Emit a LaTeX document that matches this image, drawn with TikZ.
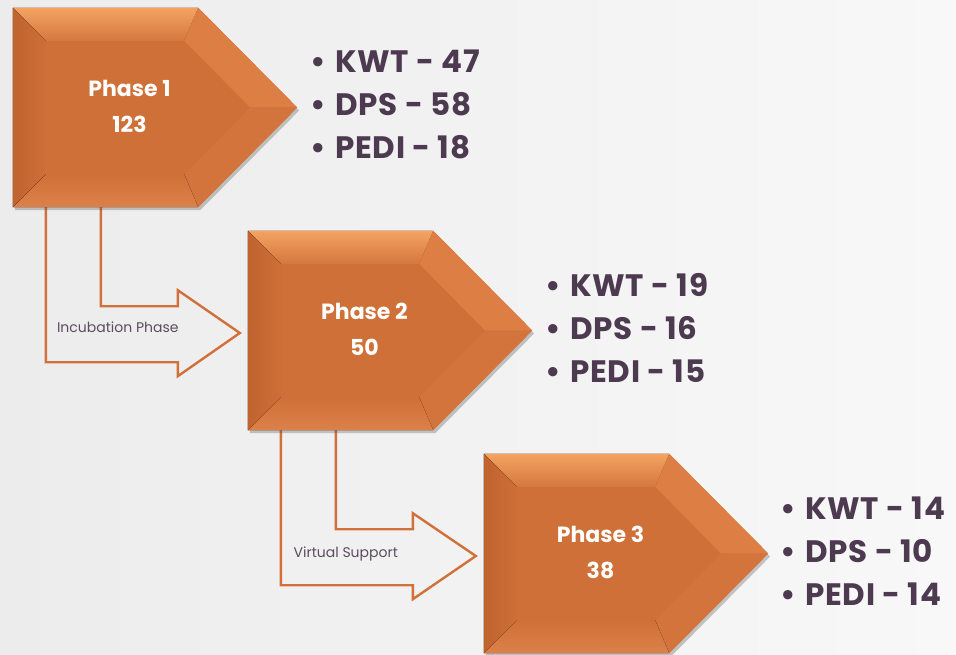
\documentclass[tikz,border=0pt]{standalone}
\usepackage{fontspec}
\setmainfont{Poppins}
\usetikzlibrary{calc,shadows}
\definecolor{PhaseOrange}{HTML}{CF7038}
\definecolor{PhaseDark}{HTML}{BF632F}
\definecolor{PhaseLight}{HTML}{DD7E44}
\definecolor{PhaseTop}{HTML}{F4A363}
\definecolor{PhaseLow}{HTML}{D3743C}
\definecolor{PhaseEdge}{HTML}{DB8149}
\definecolor{ArrowOrange}{HTML}{D2703A}
\definecolor{TextPurple}{HTML}{4D3A51}
\definecolor{LabelGray}{HTML}{5B4C5E}
\definecolor{BgLeft}{HTML}{ECECEC}
\definecolor{BgRight}{HTML}{F8F8F8}
\tikzset{
  phasebody/.style  = {minimum width=185pt, minimum height=199pt, inner sep=0pt},
  phaseshade/.style = {fill=PhaseOrange,
                       drop shadow={shadow xshift=2pt, shadow yshift=-3pt, fill=black!70, opacity=.3}},
  phasetxt/.style   = {text=white, font=\bfseries\fontsize{22}{36}\selectfont, align=center},
  bulletlist/.style = {text=TextPurple, font=\bfseries\fontsize{31}{43}\selectfont\addfontfeature{LetterSpace=2.5},
                       align=left, anchor=north west, inner sep=0pt},
  bentarrow/.style  = {draw=ArrowOrange, line width=2.4pt, line join=miter},
  arrowlbl/.style   = {text=LabelGray, font=\fontsize{14}{16}\selectfont, inner sep=0pt},
}
% bevelled pentagon drawn over a body node: name, title, count
\newcommand{\phasebox}[3]{%
  \coordinate (#1tip) at ($(#1.east)+(99,0)$);
  \path[phaseshade] (#1.north west) -- (#1.north east) -- (#1tip) -- (#1.south east) -- (#1.south west) -- cycle;
  \coordinate (#1a) at ($(#1.north west)+(33,33)$);
  \coordinate (#1b) at ($(#1.north east)+(-14,33)$);
  \coordinate (#1c) at ($(#1tip)+(-47,0)$);
  \coordinate (#1d) at ($(#1.south east)+(-14,-33)$);
  \coordinate (#1e) at ($(#1.south west)+(33,-33)$);
  \fill[top color=PhaseTop, bottom color=PhaseOrange!85!PhaseTop] (#1.north west) -- (#1.north east) -- (#1b) -- (#1a) -- cycle;
  \fill[PhaseLight] (#1.north east) -- (#1tip) -- (#1c) -- (#1b) -- cycle;
  \fill[PhaseLow] (#1tip) -- (#1.south east) -- (#1d) -- (#1c) -- cycle;
  \fill[top color=PhaseOrange, bottom color=PhaseEdge] (#1.south east) -- (#1.south west) -- (#1e) -- (#1d) -- cycle;
  \fill[left color=PhaseDark, right color=PhaseOrange!90!PhaseDark] (#1.south west) -- (#1.north west) -- (#1a) -- (#1e) -- cycle;
  \node[phasetxt] (#1txt) at ($(#1.center)+(24,-1)$) {#2\\#3};
}

\begin{document}
\begin{tikzpicture}[x=1pt, y=-1pt]
  \path[use as bounding box, left color=BgLeft, right color=BgRight] (0,0) rectangle (956,655);

  % invisible bodies first, so the arrows can refer to them
  \node[phasebody] (p1) at (105.5,107.5) {};
  \node[phasebody] (p2) at (340.5,330.5) {};
  \node[phasebody] (p3) at (576.5,553.5) {};

  % bent arrows between the phases
  \draw[bentarrow] ($(p1.south west)+(33,0)$) |- ($(p1.south west)+(165,155)$) -- ++(0,14)
    -- ($(p2.west)+(-8,2.5)$) -- ($(p1.south west)+(165,83)$) -- ++(0,16)
    -- ($(p1.south west)+(88,99)$) -- ($(p1.south west)+(88,0)$);
  \node[arrowlbl] (lbl1) at ($(p1.south west)+(105,120)$) {Incubation Phase};

  \draw[bentarrow] ($(p2.south west)+(33,0)$) |- ($(p2.south west)+(165,155)$) -- ++(0,14)
    -- ($(p3.west)+(-8,2.5)$) -- ($(p2.south west)+(165,83)$) -- ++(0,16)
    -- ($(p2.south west)+(88,99)$) -- ($(p2.south west)+(88,0)$);
  \node[arrowlbl] (lbl2) at ($(p2.south west)+(98,124)$) {Virtual Support};

  \phasebox{p1}{Phase 1}{123}
  \phasebox{p2}{Phase 2}{50}
  \phasebox{p3}{Phase 3}{38}

  % counts per site
  \node[bulletlist] (list1) at (310,50) {\makebox[25pt][l]{•}KWT - 47\\\makebox[25pt][l]{•}DPS - 58\\\makebox[25pt][l]{•}PEDI - 18};
  \node[bulletlist] (list2) at (545,273) {\makebox[25pt][l]{•}KWT - 19\\\makebox[25pt][l]{•}DPS - 16\\\makebox[25pt][l]{•}PEDI - 15};
  \node[bulletlist] (list3) at (780,497) {\makebox[25pt][l]{•}KWT - 14\\\makebox[25pt][l]{•}DPS - 10\\\makebox[25pt][l]{•}PEDI - 14};
\end{tikzpicture}
\end{document}
